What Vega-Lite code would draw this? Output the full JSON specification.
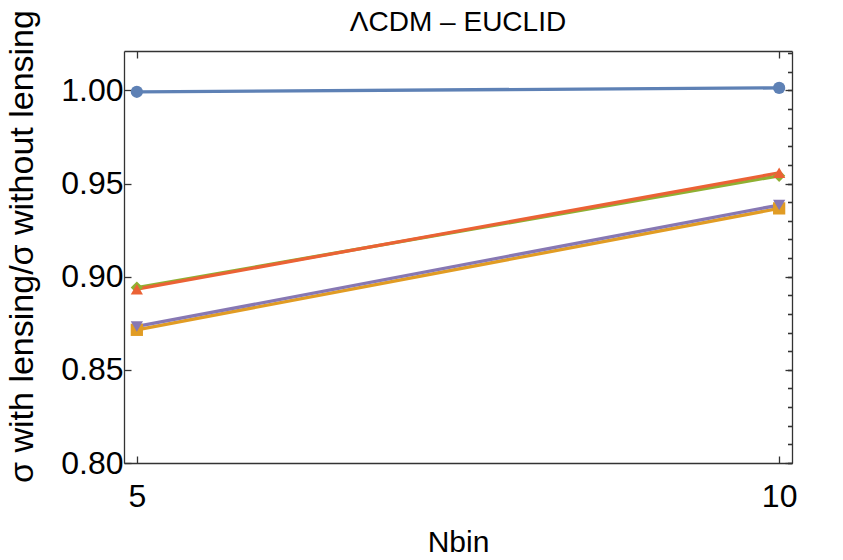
{
  "$schema": "https://vega.github.io/schema/vega-lite/v6.json",
  "autosize": "none",
  "width": 668,
  "height": 412,
  "padding": {"left": 124, "top": 51, "right": 51, "bottom": 97},
  "background": "white",
  "config": {
    "font": "Liberation Sans",
    "view": {"stroke": null},
    "axis": {"grid": false, "domainColor": "#333333", "tickColor": "#333333", "labelColor": "#000000", "titleColor": "#000000", "labelFont": "Liberation Sans", "titleFont": "Liberation Sans", "labelFontSize": 32, "titleFontSize": 30, "titleFontWeight": "normal", "domainWidth": 1.3, "tickWidth": 1.3}
  },
  "title": {"text": "ΛCDM – EUCLID", "fontSize": 28, "fontWeight": "normal", "font": "Liberation Sans", "color": "#000000", "anchor": "middle", "frame": "group", "baseline": "alphabetic", "offset": -49},
  "data": {"values": [
    {"series": "s1", "Nbin": 5, "ratio": 0.9993},
    {"series": "s1", "Nbin": 10, "ratio": 1.0014},
    {"series": "s2", "Nbin": 5, "ratio": 0.8715},
    {"series": "s2", "Nbin": 10, "ratio": 0.9367},
    {"series": "s3", "Nbin": 5, "ratio": 0.8942},
    {"series": "s3", "Nbin": 10, "ratio": 0.9542},
    {"series": "s4", "Nbin": 5, "ratio": 0.8933},
    {"series": "s4", "Nbin": 10, "ratio": 0.9558},
    {"series": "s5", "Nbin": 5, "ratio": 0.8733},
    {"series": "s5", "Nbin": 10, "ratio": 0.9385}
  ]},
  "resolve": {"axis": {"x": "independent", "y": "independent"}},
  "layer": [
    {
      "mark": {"type": "line", "strokeWidth": 3.3},
      "encoding": {
        "x": {"field": "Nbin", "type": "quantitative", "scale": {"domain": [4.9, 10.1], "nice": false, "zero": false},
              "axis": {"values": [5, 10], "tickSize": -7, "labelPadding": 25, "title": "Nbin", "titleY": 88, "titleBaseline": "alphabetic"}},
        "y": {"field": "ratio", "type": "quantitative", "scale": {"domain": [0.8, 1.0212], "nice": false, "zero": false},
              "axis": {"values": [0.8, 0.85, 0.9, 0.95, 1.0], "format": ".2f", "tickSize": -7, "labelPadding": 8, "title": "σ with lensing/σ without lensing", "titleFontSize": 34, "titleX": -102, "titleY": 195, "titleAngle": -90, "titleAlign": "center", "titleBaseline": "middle"}},
        "color": {"field": "series", "type": "nominal", "legend": null,
                  "scale": {"domain": ["s1", "s2", "s3", "s4", "s5"], "range": ["#5E81B5", "#E19C24", "#8FB032", "#EB6235", "#8778B3"]}},
        "order": {"field": "series"}
      }
    },
    {
      "mark": {"type": "point", "filled": true, "opacity": 1, "size": 150},
      "encoding": {
        "x": {"field": "Nbin", "type": "quantitative", "scale": {"domain": [4.9, 10.1], "nice": false, "zero": false},
              "axis": {"orient": "top", "values": [5, 10], "tickSize": -7, "labels": false, "title": null}},
        "y": {"field": "ratio", "type": "quantitative", "scale": {"domain": [0.8, 1.0212], "nice": false, "zero": false},
              "axis": {"values": [0.8, 0.81, 0.82, 0.83, 0.84, 0.85, 0.86, 0.87, 0.88, 0.89, 0.9, 0.91, 0.92, 0.93, 0.94, 0.95, 0.96, 0.97, 0.98, 0.99, 1.0, 1.01, 1.02], "tickSize": -4.5, "labels": false, "domain": false, "title": null}},
        "color": {"field": "series", "type": "nominal", "legend": null,
                  "scale": {"domain": ["s1", "s2", "s3", "s4", "s5"], "range": ["#5E81B5", "#E19C24", "#8FB032", "#EB6235", "#8778B3"]}},
        "shape": {"field": "series", "type": "nominal", "legend": null,
                  "scale": {"domain": ["s1", "s2", "s3", "s4", "s5"], "range": ["circle", "square", "diamond", "triangle-up", "triangle-down"]}}
      }
    },
    {
      "mark": {"type": "point", "opacity": 0},
      "encoding": {
        "x": {"field": "Nbin", "type": "quantitative", "scale": {"domain": [4.9, 10.1], "nice": false, "zero": false}, "axis": null},
        "y": {"field": "ratio", "type": "quantitative", "scale": {"domain": [0.8, 1.0212], "nice": false, "zero": false},
              "axis": {"orient": "right", "values": [0.8, 0.85, 0.9, 0.95, 1.0], "tickSize": -7, "labels": false, "title": null}}
      }
    },
    {
      "mark": {"type": "point", "opacity": 0},
      "encoding": {
        "x": {"field": "Nbin", "type": "quantitative", "scale": {"domain": [4.9, 10.1], "nice": false, "zero": false}, "axis": null},
        "y": {"field": "ratio", "type": "quantitative", "scale": {"domain": [0.8, 1.0212], "nice": false, "zero": false},
              "axis": {"orient": "right", "values": [0.8, 0.81, 0.82, 0.83, 0.84, 0.85, 0.86, 0.87, 0.88, 0.89, 0.9, 0.91, 0.92, 0.93, 0.94, 0.95, 0.96, 0.97, 0.98, 0.99, 1.0, 1.01, 1.02], "tickSize": -4.5, "labels": false, "domain": false, "title": null}}
      }
    }
  ]
}
